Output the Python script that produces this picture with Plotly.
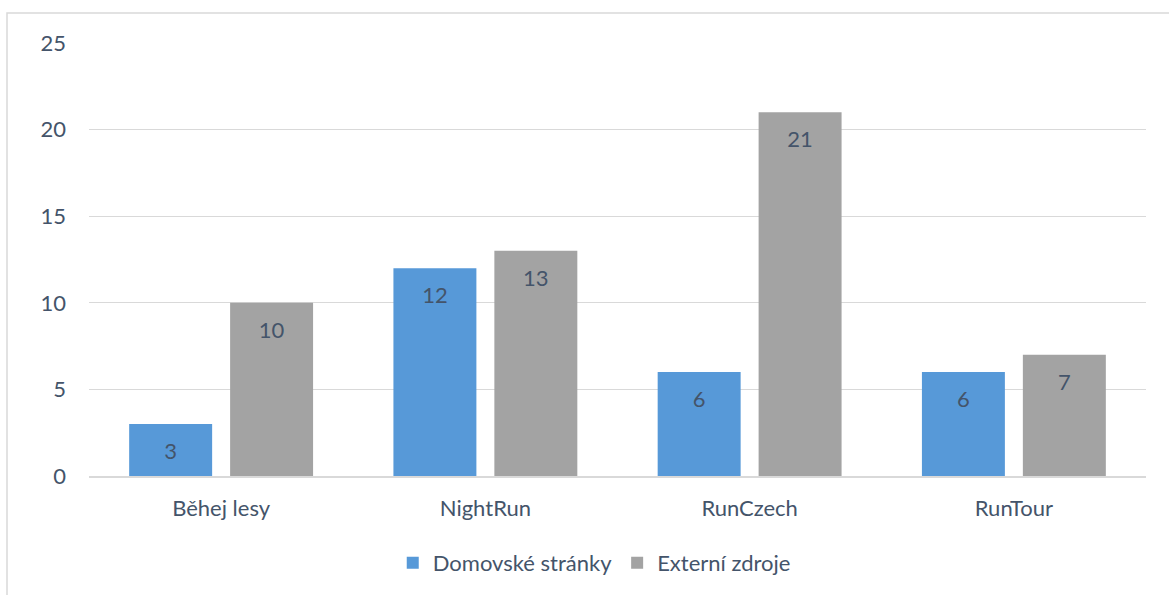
import plotly.graph_objects as go

categories = ["Běhej lesy", "NightRun", "RunCzech", "RunTour"]
domovske = [3, 12, 6, 6]
externi = [10, 13, 21, 7]
series_names = ["Domovské stránky", "Externí zdroje"]
y_ticks = [0, 5, 10, 15, 20, 25]

FONT = "Lato, Calibri, 'Open Sans', sans-serif"
TXT = "#44546A"
FS = 22
COLORS = ["#5799D8", "#A3A3A3"]

fig = go.Figure()
for name, vals, col in zip(series_names, [domovske, externi], COLORS):
    fig.add_trace(go.Bar(
        x=categories, y=vals, name=name,
        marker=dict(color=col, line=dict(width=0)),
    ))
for name, vals in zip(series_names, [domovske, externi]):
    fig.add_trace(go.Scatter(
        x=categories, y=vals, mode="markers+text", text=[str(v) for v in vals],
        textposition="bottom center", showlegend=False, hoverinfo="skip",
        marker=dict(size=28, color="rgba(0,0,0,0)"),
        textfont=dict(size=FS, color=TXT, family=FONT),
    ))

L, R, T, B = 89, 23, 43, 118
W, H = 1169, 595
pw, ph = W - L - R, H - T - B

fig.update_layout(
    width=W, height=H,
    margin=dict(l=L, r=R, t=T, b=B),
    paper_bgcolor="white", plot_bgcolor="white",
    barmode="group", bargap=0.236, bargroupgap=0.178,
    scattermode="group", scattergap=0.236,
    font=dict(family=FONT, color=TXT, size=FS),
    showlegend=True,
    legend=dict(orientation="h", x=0.478, xanchor="center", y=(T + ph - 563) / ph,
                yanchor="middle", font=dict(size=FS, color=TXT, family=FONT),
                itemwidth=30, tracegroupgap=0),
    shapes=[dict(type="rect", xref="paper", yref="paper",
                 x0=(7 - L) / pw, x1=(W + 10 - L) / pw,
                 y0=(T + ph - (H + 10)) / ph, y1=1 + (T - 13) / ph,
                 line=dict(color="#D9D9D9", width=1.5), layer="below")],
)
fig.update_xaxes(showgrid=False, showline=True, linecolor="#D9D9D9", linewidth=1.5,
                 tickfont=dict(size=FS, color=TXT, family=FONT), ticks="",
                 ticklabelstandoff=12)
fig.update_yaxes(range=[0, 25], tickvals=y_ticks, showgrid=True, gridcolor="#D9D9D9",
                 gridwidth=1, zeroline=False, showline=False, ticks="",
                 tickfont=dict(size=FS, color=TXT, family=FONT), ticklabelstandoff=22)

fig.write_html("out.html")
